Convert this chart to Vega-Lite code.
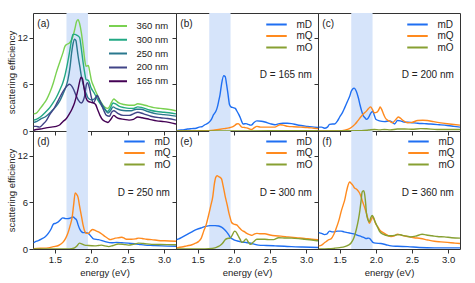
{
"$schema": "https://vega.github.io/schema/vega-lite/v6.json",
"padding": {"left": 6, "top": 12, "right": 5, "bottom": 2},
"background": "white",
"bounds": "flush",
"spacing": 0,
"columns": 3,
"config": {
  "font": "Liberation Sans",
  "view": {"stroke": "#333", "strokeWidth": 1},
  "axis": {"domain": false, "grid": false, "tickSize": 4, "tickColor": "#333", "tickWidth": 1, "labelFont": "Liberation Sans", "labelFontSize": 9.5, "labelColor": "#222", "titleFont": "Liberation Sans", "titleFontSize": 9.5, "titleFontWeight": "normal", "titleColor": "#222", "labelPadding": 1.5},
  "axisY": {"titlePadding": 0},
  "axisX": {"titlePadding": 3},
  "legend": {"orient": "none", "symbolType": "stroke", "symbolStrokeWidth": 2, "labelFont": "Liberation Sans", "labelFontSize": 10, "labelColor": "#222", "padding": 0, "labelOffset": 8.5},
  "text": {"font": "Liberation Sans", "fontSize": 10, "color": "#222"}
},
"datasets": {
"a": [
{"E":1.21,"v":2.2,"s":"360 nm"},{"E":1.245,"v":2.3,"s":"360 nm"},{"E":1.3,"v":2.9,"s":"360 nm"},{"E":1.34,"v":3.4,"s":"360 nm"},{"E":1.39,"v":4.1,"s":"360 nm"},{"E":1.43,"v":4.9,"s":"360 nm"},{"E":1.48,"v":6.2,"s":"360 nm"},{"E":1.52,"v":7.5,"s":"360 nm"},{"E":1.57,"v":8.9,"s":"360 nm"},{"E":1.61,"v":10.0,"s":"360 nm"},{"E":1.64,"v":10.9,"s":"360 nm"},{"E":1.66,"v":11.1,"s":"360 nm"},{"E":1.7,"v":11.3,"s":"360 nm"},{"E":1.73,"v":11.7,"s":"360 nm"},{"E":1.75,"v":12.2,"s":"360 nm"},{"E":1.78,"v":13.3,"s":"360 nm"},{"E":1.8,"v":14.1,"s":"360 nm"},{"E":1.82,"v":14.3,"s":"360 nm"},{"E":1.84,"v":13.8,"s":"360 nm"},{"E":1.865,"v":12.6,"s":"360 nm"},{"E":1.89,"v":10.8,"s":"360 nm"},{"E":1.91,"v":9.2,"s":"360 nm"},{"E":1.93,"v":8.3,"s":"360 nm"},{"E":1.96,"v":8.4,"s":"360 nm"},{"E":1.98,"v":7.6,"s":"360 nm"},{"E":2.0,"v":6.6,"s":"360 nm"},{"E":2.04,"v":5.6,"s":"360 nm"},{"E":2.07,"v":4.9,"s":"360 nm"},{"E":2.1,"v":4.3,"s":"360 nm"},{"E":2.14,"v":3.6,"s":"360 nm"},{"E":2.18,"v":3.1,"s":"360 nm"},{"E":2.22,"v":2.9,"s":"360 nm"},{"E":2.25,"v":3.1,"s":"360 nm"},{"E":2.28,"v":3.7,"s":"360 nm"},{"E":2.31,"v":4.1,"s":"360 nm"},{"E":2.34,"v":3.9,"s":"360 nm"},{"E":2.38,"v":3.6,"s":"360 nm"},{"E":2.45,"v":3.4,"s":"360 nm"},{"E":2.52,"v":3.3,"s":"360 nm"},{"E":2.58,"v":3.3,"s":"360 nm"},{"E":2.64,"v":3.5,"s":"360 nm"},{"E":2.7,"v":3.4,"s":"360 nm"},{"E":2.78,"v":3.2,"s":"360 nm"},{"E":2.86,"v":3.0,"s":"360 nm"},{"E":2.95,"v":2.9,"s":"360 nm"},{"E":3.05,"v":2.8,"s":"360 nm"},{"E":3.165,"v":2.6,"s":"360 nm"},
{"E":1.21,"v":1.4,"s":"300 nm"},{"E":1.245,"v":1.5,"s":"300 nm"},{"E":1.3,"v":1.8,"s":"300 nm"},{"E":1.38,"v":2.5,"s":"300 nm"},{"E":1.43,"v":3.0,"s":"300 nm"},{"E":1.475,"v":3.6,"s":"300 nm"},{"E":1.52,"v":4.3,"s":"300 nm"},{"E":1.57,"v":5.3,"s":"300 nm"},{"E":1.61,"v":6.2,"s":"300 nm"},{"E":1.635,"v":7.0,"s":"300 nm"},{"E":1.67,"v":8.5,"s":"300 nm"},{"E":1.7,"v":10.0,"s":"300 nm"},{"E":1.73,"v":11.7,"s":"300 nm"},{"E":1.75,"v":12.4,"s":"300 nm"},{"E":1.78,"v":12.4,"s":"300 nm"},{"E":1.8,"v":12.3,"s":"300 nm"},{"E":1.82,"v":12.2,"s":"300 nm"},{"E":1.84,"v":12.0,"s":"300 nm"},{"E":1.865,"v":10.5,"s":"300 nm"},{"E":1.89,"v":8.7,"s":"300 nm"},{"E":1.91,"v":7.5,"s":"300 nm"},{"E":1.93,"v":6.6,"s":"300 nm"},{"E":1.96,"v":6.5,"s":"300 nm"},{"E":2.0,"v":5.5,"s":"300 nm"},{"E":2.04,"v":4.9,"s":"300 nm"},{"E":2.09,"v":4.0,"s":"300 nm"},{"E":2.14,"v":3.3,"s":"300 nm"},{"E":2.19,"v":2.7,"s":"300 nm"},{"E":2.22,"v":2.5,"s":"300 nm"},{"E":2.26,"v":2.9,"s":"300 nm"},{"E":2.3,"v":3.6,"s":"300 nm"},{"E":2.33,"v":3.5,"s":"300 nm"},{"E":2.38,"v":3.2,"s":"300 nm"},{"E":2.45,"v":3.0,"s":"300 nm"},{"E":2.52,"v":2.9,"s":"300 nm"},{"E":2.58,"v":2.9,"s":"300 nm"},{"E":2.64,"v":3.1,"s":"300 nm"},{"E":2.7,"v":3.0,"s":"300 nm"},{"E":2.8,"v":2.7,"s":"300 nm"},{"E":2.9,"v":2.5,"s":"300 nm"},{"E":3.0,"v":2.4,"s":"300 nm"},{"E":3.165,"v":2.2,"s":"300 nm"},
{"E":1.21,"v":1.1,"s":"250 nm"},{"E":1.245,"v":1.2,"s":"250 nm"},{"E":1.3,"v":1.5,"s":"250 nm"},{"E":1.38,"v":1.9,"s":"250 nm"},{"E":1.45,"v":2.5,"s":"250 nm"},{"E":1.52,"v":3.2,"s":"250 nm"},{"E":1.57,"v":3.9,"s":"250 nm"},{"E":1.61,"v":4.7,"s":"250 nm"},{"E":1.65,"v":5.6,"s":"250 nm"},{"E":1.68,"v":6.6,"s":"250 nm"},{"E":1.71,"v":8.3,"s":"250 nm"},{"E":1.73,"v":10.0,"s":"250 nm"},{"E":1.75,"v":11.2,"s":"250 nm"},{"E":1.77,"v":11.8,"s":"250 nm"},{"E":1.79,"v":11.6,"s":"250 nm"},{"E":1.8,"v":11.0,"s":"250 nm"},{"E":1.82,"v":9.6,"s":"250 nm"},{"E":1.845,"v":8.2,"s":"250 nm"},{"E":1.865,"v":7.0,"s":"250 nm"},{"E":1.89,"v":6.0,"s":"250 nm"},{"E":1.91,"v":5.3,"s":"250 nm"},{"E":1.94,"v":4.6,"s":"250 nm"},{"E":1.96,"v":4.2,"s":"250 nm"},{"E":2.0,"v":4.0,"s":"250 nm"},{"E":2.04,"v":4.1,"s":"250 nm"},{"E":2.08,"v":4.5,"s":"250 nm"},{"E":2.11,"v":4.0,"s":"250 nm"},{"E":2.15,"v":3.4,"s":"250 nm"},{"E":2.19,"v":2.8,"s":"250 nm"},{"E":2.23,"v":2.3,"s":"250 nm"},{"E":2.27,"v":2.7,"s":"250 nm"},{"E":2.3,"v":3.1,"s":"250 nm"},{"E":2.34,"v":2.9,"s":"250 nm"},{"E":2.4,"v":2.7,"s":"250 nm"},{"E":2.48,"v":2.6,"s":"250 nm"},{"E":2.55,"v":2.6,"s":"250 nm"},{"E":2.62,"v":2.8,"s":"250 nm"},{"E":2.68,"v":2.8,"s":"250 nm"},{"E":2.78,"v":2.5,"s":"250 nm"},{"E":2.9,"v":2.2,"s":"250 nm"},{"E":3.0,"v":2.1,"s":"250 nm"},{"E":3.165,"v":1.9,"s":"250 nm"},
{"E":1.21,"v":0.6,"s":"200 nm"},{"E":1.245,"v":0.6,"s":"200 nm"},{"E":1.29,"v":0.5,"s":"200 nm"},{"E":1.34,"v":0.9,"s":"200 nm"},{"E":1.38,"v":1.3,"s":"200 nm"},{"E":1.43,"v":2.1,"s":"200 nm"},{"E":1.49,"v":2.9,"s":"200 nm"},{"E":1.54,"v":3.8,"s":"200 nm"},{"E":1.59,"v":4.7,"s":"200 nm"},{"E":1.635,"v":5.4,"s":"200 nm"},{"E":1.67,"v":5.8,"s":"200 nm"},{"E":1.7,"v":6.0,"s":"200 nm"},{"E":1.73,"v":5.8,"s":"200 nm"},{"E":1.76,"v":5.3,"s":"200 nm"},{"E":1.79,"v":4.6,"s":"200 nm"},{"E":1.82,"v":4.0,"s":"200 nm"},{"E":1.865,"v":3.6,"s":"200 nm"},{"E":1.89,"v":3.9,"s":"200 nm"},{"E":1.91,"v":4.5,"s":"200 nm"},{"E":1.935,"v":6.0,"s":"200 nm"},{"E":1.95,"v":6.2,"s":"200 nm"},{"E":1.98,"v":5.3,"s":"200 nm"},{"E":2.0,"v":4.4,"s":"200 nm"},{"E":2.03,"v":3.6,"s":"200 nm"},{"E":2.06,"v":4.1,"s":"200 nm"},{"E":2.08,"v":4.6,"s":"200 nm"},{"E":2.1,"v":4.3,"s":"200 nm"},{"E":2.13,"v":3.6,"s":"200 nm"},{"E":2.17,"v":2.7,"s":"200 nm"},{"E":2.21,"v":2.0,"s":"200 nm"},{"E":2.25,"v":1.9,"s":"200 nm"},{"E":2.28,"v":2.4,"s":"200 nm"},{"E":2.31,"v":2.6,"s":"200 nm"},{"E":2.36,"v":2.3,"s":"200 nm"},{"E":2.44,"v":2.0,"s":"200 nm"},{"E":2.52,"v":2.0,"s":"200 nm"},{"E":2.58,"v":2.2,"s":"200 nm"},{"E":2.64,"v":2.4,"s":"200 nm"},{"E":2.72,"v":2.2,"s":"200 nm"},{"E":2.82,"v":1.9,"s":"200 nm"},{"E":2.95,"v":1.7,"s":"200 nm"},{"E":3.05,"v":1.6,"s":"200 nm"},{"E":3.165,"v":1.4,"s":"200 nm"},
{"E":1.21,"v":0.1,"s":"165 nm"},{"E":1.245,"v":0.2,"s":"165 nm"},{"E":1.3,"v":0.25,"s":"165 nm"},{"E":1.38,"v":0.4,"s":"165 nm"},{"E":1.45,"v":0.5,"s":"165 nm"},{"E":1.52,"v":0.6,"s":"165 nm"},{"E":1.57,"v":0.8,"s":"165 nm"},{"E":1.61,"v":1.2,"s":"165 nm"},{"E":1.65,"v":1.5,"s":"165 nm"},{"E":1.7,"v":2.2,"s":"165 nm"},{"E":1.74,"v":2.9,"s":"165 nm"},{"E":1.77,"v":3.6,"s":"165 nm"},{"E":1.8,"v":4.6,"s":"165 nm"},{"E":1.82,"v":5.4,"s":"165 nm"},{"E":1.845,"v":6.5,"s":"165 nm"},{"E":1.86,"v":6.9,"s":"165 nm"},{"E":1.88,"v":6.7,"s":"165 nm"},{"E":1.9,"v":5.6,"s":"165 nm"},{"E":1.93,"v":4.2,"s":"165 nm"},{"E":1.96,"v":3.8,"s":"165 nm"},{"E":1.99,"v":3.7,"s":"165 nm"},{"E":2.03,"v":3.6,"s":"165 nm"},{"E":2.06,"v":3.4,"s":"165 nm"},{"E":2.09,"v":2.7,"s":"165 nm"},{"E":2.12,"v":2.0,"s":"165 nm"},{"E":2.16,"v":1.4,"s":"165 nm"},{"E":2.2,"v":1.2,"s":"165 nm"},{"E":2.23,"v":1.1,"s":"165 nm"},{"E":2.27,"v":1.5,"s":"165 nm"},{"E":2.31,"v":2.0,"s":"165 nm"},{"E":2.34,"v":1.8,"s":"165 nm"},{"E":2.38,"v":1.6,"s":"165 nm"},{"E":2.45,"v":1.5,"s":"165 nm"},{"E":2.52,"v":1.4,"s":"165 nm"},{"E":2.58,"v":1.5,"s":"165 nm"},{"E":2.64,"v":1.8,"s":"165 nm"},{"E":2.7,"v":1.7,"s":"165 nm"},{"E":2.8,"v":1.5,"s":"165 nm"},{"E":2.9,"v":1.3,"s":"165 nm"},{"E":3.0,"v":1.2,"s":"165 nm"},{"E":3.165,"v":0.9,"s":"165 nm"}
],
"b": [
{"E":1.21,"v":0.05,"s":"mD"},{"E":1.24,"v":0.1,"s":"mD"},{"E":1.3,"v":0.15,"s":"mD"},{"E":1.36,"v":0.25,"s":"mD"},{"E":1.42,"v":0.3,"s":"mD"},{"E":1.48,"v":0.35,"s":"mD"},{"E":1.52,"v":0.5,"s":"mD"},{"E":1.56,"v":0.55,"s":"mD"},{"E":1.6,"v":0.8,"s":"mD"},{"E":1.65,"v":1.05,"s":"mD"},{"E":1.69,"v":1.5,"s":"mD"},{"E":1.72,"v":2.1,"s":"mD"},{"E":1.75,"v":2.5,"s":"mD"},{"E":1.77,"v":3.0,"s":"mD"},{"E":1.79,"v":3.8,"s":"mD"},{"E":1.81,"v":4.7,"s":"mD"},{"E":1.83,"v":6.0,"s":"mD"},{"E":1.86,"v":7.1,"s":"mD"},{"E":1.88,"v":7.0,"s":"mD"},{"E":1.9,"v":6.0,"s":"mD"},{"E":1.92,"v":4.7,"s":"mD"},{"E":1.94,"v":3.4,"s":"mD"},{"E":1.96,"v":3.1,"s":"mD"},{"E":1.99,"v":3.0,"s":"mD"},{"E":2.02,"v":2.9,"s":"mD"},{"E":2.04,"v":2.6,"s":"mD"},{"E":2.07,"v":2.1,"s":"mD"},{"E":2.09,"v":1.7,"s":"mD"},{"E":2.11,"v":1.2,"s":"mD"},{"E":2.13,"v":0.9,"s":"mD"},{"E":2.17,"v":0.95,"s":"mD"},{"E":2.2,"v":0.85,"s":"mD"},{"E":2.23,"v":0.75,"s":"mD"},{"E":2.25,"v":0.8,"s":"mD"},{"E":2.28,"v":1.1,"s":"mD"},{"E":2.32,"v":1.3,"s":"mD"},{"E":2.38,"v":1.25,"s":"mD"},{"E":2.43,"v":1.15,"s":"mD"},{"E":2.5,"v":0.95,"s":"mD"},{"E":2.57,"v":0.8,"s":"mD"},{"E":2.63,"v":0.95,"s":"mD"},{"E":2.68,"v":1.0,"s":"mD"},{"E":2.74,"v":1.0,"s":"mD"},{"E":2.8,"v":0.95,"s":"mD"},{"E":2.87,"v":0.8,"s":"mD"},{"E":2.93,"v":0.7,"s":"mD"},{"E":3.02,"v":0.6,"s":"mD"},{"E":3.11,"v":0.5,"s":"mD"},{"E":3.165,"v":0.45,"s":"mD"},
{"E":1.21,"v":0.0,"s":"mQ"},{"E":1.5,"v":0.02,"s":"mQ"},{"E":1.65,"v":0.05,"s":"mQ"},{"E":1.72,"v":0.1,"s":"mQ"},{"E":1.79,"v":0.2,"s":"mQ"},{"E":1.86,"v":0.3,"s":"mQ"},{"E":1.93,"v":0.4,"s":"mQ"},{"E":1.97,"v":0.5,"s":"mQ"},{"E":2.01,"v":0.7,"s":"mQ"},{"E":2.04,"v":0.9,"s":"mQ"},{"E":2.06,"v":0.95,"s":"mQ"},{"E":2.08,"v":0.8,"s":"mQ"},{"E":2.11,"v":0.5,"s":"mQ"},{"E":2.15,"v":0.45,"s":"mQ"},{"E":2.18,"v":0.4,"s":"mQ"},{"E":2.22,"v":0.25,"s":"mQ"},{"E":2.25,"v":0.2,"s":"mQ"},{"E":2.28,"v":0.4,"s":"mQ"},{"E":2.32,"v":0.6,"s":"mQ"},{"E":2.37,"v":0.5,"s":"mQ"},{"E":2.43,"v":0.5,"s":"mQ"},{"E":2.5,"v":0.5,"s":"mQ"},{"E":2.57,"v":0.5,"s":"mQ"},{"E":2.61,"v":0.7,"s":"mQ"},{"E":2.64,"v":0.8,"s":"mQ"},{"E":2.68,"v":0.75,"s":"mQ"},{"E":2.75,"v":0.6,"s":"mQ"},{"E":2.83,"v":0.55,"s":"mQ"},{"E":2.93,"v":0.5,"s":"mQ"},{"E":3.02,"v":0.45,"s":"mQ"},{"E":3.11,"v":0.35,"s":"mQ"},{"E":3.165,"v":0.3,"s":"mQ"},
{"E":1.21,"v":0.0,"s":"mO"},{"E":2.0,"v":0.01,"s":"mO"},{"E":2.5,"v":0.03,"s":"mO"},{"E":3.165,"v":0.03,"s":"mO"}
],
"c": [
{"E":1.21,"v":0.5,"s":"mD"},{"E":1.25,"v":0.5,"s":"mD"},{"E":1.29,"v":0.35,"s":"mD"},{"E":1.33,"v":0.5,"s":"mD"},{"E":1.36,"v":0.85,"s":"mD"},{"E":1.4,"v":0.9,"s":"mD"},{"E":1.43,"v":0.9,"s":"mD"},{"E":1.47,"v":1.3,"s":"mD"},{"E":1.5,"v":1.8,"s":"mD"},{"E":1.54,"v":2.4,"s":"mD"},{"E":1.57,"v":3.0,"s":"mD"},{"E":1.61,"v":3.85,"s":"mD"},{"E":1.64,"v":4.5,"s":"mD"},{"E":1.66,"v":5.1,"s":"mD"},{"E":1.68,"v":5.4,"s":"mD"},{"E":1.7,"v":5.5,"s":"mD"},{"E":1.72,"v":5.3,"s":"mD"},{"E":1.73,"v":5.1,"s":"mD"},{"E":1.76,"v":4.2,"s":"mD"},{"E":1.78,"v":3.4,"s":"mD"},{"E":1.8,"v":2.7,"s":"mD"},{"E":1.82,"v":2.1,"s":"mD"},{"E":1.85,"v":1.7,"s":"mD"},{"E":1.87,"v":1.5,"s":"mD"},{"E":1.89,"v":1.6,"s":"mD"},{"E":1.91,"v":1.9,"s":"mD"},{"E":1.93,"v":2.3,"s":"mD"},{"E":1.96,"v":2.5,"s":"mD"},{"E":1.98,"v":2.0,"s":"mD"},{"E":2.0,"v":1.5,"s":"mD"},{"E":2.05,"v":1.3,"s":"mD"},{"E":2.12,"v":1.2,"s":"mD"},{"E":2.19,"v":1.3,"s":"mD"},{"E":2.23,"v":1.1,"s":"mD"},{"E":2.26,"v":0.9,"s":"mD"},{"E":2.3,"v":1.35,"s":"mD"},{"E":2.34,"v":1.3,"s":"mD"},{"E":2.39,"v":1.15,"s":"mD"},{"E":2.48,"v":1.1,"s":"mD"},{"E":2.58,"v":1.0,"s":"mD"},{"E":2.67,"v":0.95,"s":"mD"},{"E":2.76,"v":0.9,"s":"mD"},{"E":2.88,"v":0.8,"s":"mD"},{"E":2.99,"v":0.7,"s":"mD"},{"E":3.08,"v":0.6,"s":"mD"},{"E":3.165,"v":0.5,"s":"mD"},
{"E":1.21,"v":0.0,"s":"mQ"},{"E":1.5,"v":0.02,"s":"mQ"},{"E":1.57,"v":0.1,"s":"mQ"},{"E":1.61,"v":0.2,"s":"mQ"},{"E":1.66,"v":0.45,"s":"mQ"},{"E":1.71,"v":0.85,"s":"mQ"},{"E":1.75,"v":1.3,"s":"mQ"},{"E":1.8,"v":1.9,"s":"mQ"},{"E":1.84,"v":2.3,"s":"mQ"},{"E":1.87,"v":2.55,"s":"mQ"},{"E":1.9,"v":2.9,"s":"mQ"},{"E":1.93,"v":3.1,"s":"mQ"},{"E":1.95,"v":2.8,"s":"mQ"},{"E":1.98,"v":2.35,"s":"mQ"},{"E":2.01,"v":2.4,"s":"mQ"},{"E":2.03,"v":2.55,"s":"mQ"},{"E":2.05,"v":2.9,"s":"mQ"},{"E":2.06,"v":3.1,"s":"mQ"},{"E":2.08,"v":2.8,"s":"mQ"},{"E":2.11,"v":2.1,"s":"mQ"},{"E":2.13,"v":1.7,"s":"mQ"},{"E":2.16,"v":1.4,"s":"mQ"},{"E":2.2,"v":1.2,"s":"mQ"},{"E":2.23,"v":1.05,"s":"mQ"},{"E":2.26,"v":1.3,"s":"mQ"},{"E":2.28,"v":1.5,"s":"mQ"},{"E":2.31,"v":1.8,"s":"mQ"},{"E":2.34,"v":1.65,"s":"mQ"},{"E":2.37,"v":1.4,"s":"mQ"},{"E":2.44,"v":1.05,"s":"mQ"},{"E":2.5,"v":1.1,"s":"mQ"},{"E":2.58,"v":1.35,"s":"mQ"},{"E":2.65,"v":1.38,"s":"mQ"},{"E":2.71,"v":1.35,"s":"mQ"},{"E":2.8,"v":1.2,"s":"mQ"},{"E":2.9,"v":1.05,"s":"mQ"},{"E":3.02,"v":0.9,"s":"mQ"},{"E":3.165,"v":0.75,"s":"mQ"},
{"E":1.21,"v":0.0,"s":"mO"},{"E":1.8,"v":0.05,"s":"mO"},{"E":1.9,"v":0.12,"s":"mO"},{"E":1.98,"v":0.2,"s":"mO"},{"E":2.05,"v":0.15,"s":"mO"},{"E":2.12,"v":0.2,"s":"mO"},{"E":2.2,"v":0.15,"s":"mO"},{"E":2.3,"v":0.25,"s":"mO"},{"E":2.4,"v":0.25,"s":"mO"},{"E":2.5,"v":0.22,"s":"mO"},{"E":2.62,"v":0.3,"s":"mO"},{"E":2.7,"v":0.28,"s":"mO"},{"E":2.85,"v":0.2,"s":"mO"},{"E":3.0,"v":0.2,"s":"mO"},{"E":3.165,"v":0.2,"s":"mO"}
],
"d": [
{"E":1.21,"v":0.8,"s":"mD"},{"E":1.25,"v":1.0,"s":"mD"},{"E":1.28,"v":1.1,"s":"mD"},{"E":1.32,"v":1.3,"s":"mD"},{"E":1.36,"v":1.5,"s":"mD"},{"E":1.41,"v":2.0,"s":"mD"},{"E":1.45,"v":2.6,"s":"mD"},{"E":1.48,"v":3.2,"s":"mD"},{"E":1.51,"v":3.3,"s":"mD"},{"E":1.55,"v":3.5,"s":"mD"},{"E":1.58,"v":3.8,"s":"mD"},{"E":1.61,"v":4.0,"s":"mD"},{"E":1.65,"v":3.9,"s":"mD"},{"E":1.68,"v":3.9,"s":"mD"},{"E":1.72,"v":4.0,"s":"mD"},{"E":1.75,"v":4.1,"s":"mD"},{"E":1.78,"v":3.9,"s":"mD"},{"E":1.8,"v":3.7,"s":"mD"},{"E":1.82,"v":3.1,"s":"mD"},{"E":1.84,"v":2.6,"s":"mD"},{"E":1.87,"v":2.2,"s":"mD"},{"E":1.89,"v":2.1,"s":"mD"},{"E":1.93,"v":2.1,"s":"mD"},{"E":1.96,"v":2.0,"s":"mD"},{"E":2.0,"v":1.6,"s":"mD"},{"E":2.03,"v":1.3,"s":"mD"},{"E":2.1,"v":1.2,"s":"mD"},{"E":2.19,"v":0.95,"s":"mD"},{"E":2.28,"v":0.8,"s":"mD"},{"E":2.35,"v":0.85,"s":"mD"},{"E":2.42,"v":0.8,"s":"mD"},{"E":2.55,"v":0.7,"s":"mD"},{"E":2.65,"v":0.6,"s":"mD"},{"E":2.74,"v":0.5,"s":"mD"},{"E":2.85,"v":0.45,"s":"mD"},{"E":2.97,"v":0.4,"s":"mD"},{"E":3.165,"v":0.35,"s":"mD"},
{"E":1.21,"v":0.05,"s":"mQ"},{"E":1.3,"v":0.1,"s":"mQ"},{"E":1.41,"v":0.15,"s":"mQ"},{"E":1.48,"v":0.3,"s":"mQ"},{"E":1.55,"v":0.45,"s":"mQ"},{"E":1.61,"v":0.85,"s":"mQ"},{"E":1.65,"v":1.4,"s":"mQ"},{"E":1.68,"v":2.05,"s":"mQ"},{"E":1.71,"v":3.0,"s":"mQ"},{"E":1.74,"v":4.2,"s":"mQ"},{"E":1.76,"v":5.8,"s":"mQ"},{"E":1.78,"v":7.2,"s":"mQ"},{"E":1.8,"v":7.0,"s":"mQ"},{"E":1.82,"v":6.6,"s":"mQ"},{"E":1.84,"v":5.5,"s":"mQ"},{"E":1.87,"v":4.0,"s":"mQ"},{"E":1.89,"v":3.0,"s":"mQ"},{"E":1.91,"v":2.3,"s":"mQ"},{"E":1.94,"v":2.0,"s":"mQ"},{"E":1.96,"v":2.0,"s":"mQ"},{"E":1.99,"v":2.3,"s":"mQ"},{"E":2.02,"v":2.5,"s":"mQ"},{"E":2.06,"v":2.35,"s":"mQ"},{"E":2.1,"v":2.2,"s":"mQ"},{"E":2.15,"v":1.9,"s":"mQ"},{"E":2.19,"v":1.6,"s":"mQ"},{"E":2.23,"v":1.35,"s":"mQ"},{"E":2.26,"v":1.2,"s":"mQ"},{"E":2.3,"v":1.3,"s":"mQ"},{"E":2.33,"v":1.4,"s":"mQ"},{"E":2.38,"v":1.45,"s":"mQ"},{"E":2.42,"v":1.5,"s":"mQ"},{"E":2.46,"v":1.35,"s":"mQ"},{"E":2.49,"v":1.25,"s":"mQ"},{"E":2.55,"v":1.25,"s":"mQ"},{"E":2.61,"v":1.3,"s":"mQ"},{"E":2.65,"v":1.4,"s":"mQ"},{"E":2.7,"v":1.35,"s":"mQ"},{"E":2.76,"v":1.25,"s":"mQ"},{"E":2.83,"v":1.2,"s":"mQ"},{"E":2.92,"v":1.1,"s":"mQ"},{"E":3.01,"v":1.05,"s":"mQ"},{"E":3.165,"v":1.0,"s":"mQ"},
{"E":1.21,"v":0.0,"s":"mO"},{"E":1.7,"v":0.02,"s":"mO"},{"E":1.76,"v":0.1,"s":"mO"},{"E":1.8,"v":0.35,"s":"mO"},{"E":1.84,"v":0.75,"s":"mO"},{"E":1.87,"v":0.65,"s":"mO"},{"E":1.91,"v":0.5,"s":"mO"},{"E":1.96,"v":0.45,"s":"mO"},{"E":2.05,"v":0.4,"s":"mO"},{"E":2.1,"v":0.45,"s":"mO"},{"E":2.14,"v":0.5,"s":"mO"},{"E":2.19,"v":0.4,"s":"mO"},{"E":2.24,"v":0.3,"s":"mO"},{"E":2.3,"v":0.45,"s":"mO"},{"E":2.37,"v":0.65,"s":"mO"},{"E":2.44,"v":0.6,"s":"mO"},{"E":2.51,"v":0.5,"s":"mO"},{"E":2.58,"v":0.6,"s":"mO"},{"E":2.65,"v":0.75,"s":"mO"},{"E":2.72,"v":0.7,"s":"mO"},{"E":2.83,"v":0.6,"s":"mO"},{"E":2.95,"v":0.58,"s":"mO"},{"E":3.165,"v":0.55,"s":"mO"}
],
"e": [
{"E":1.21,"v":1.2,"s":"mD"},{"E":1.24,"v":1.3,"s":"mD"},{"E":1.28,"v":1.5,"s":"mD"},{"E":1.33,"v":1.75,"s":"mD"},{"E":1.38,"v":2.0,"s":"mD"},{"E":1.42,"v":2.2,"s":"mD"},{"E":1.47,"v":2.45,"s":"mD"},{"E":1.51,"v":2.6,"s":"mD"},{"E":1.56,"v":2.75,"s":"mD"},{"E":1.61,"v":2.9,"s":"mD"},{"E":1.67,"v":3.0,"s":"mD"},{"E":1.74,"v":3.0,"s":"mD"},{"E":1.79,"v":2.95,"s":"mD"},{"E":1.83,"v":2.8,"s":"mD"},{"E":1.87,"v":2.5,"s":"mD"},{"E":1.9,"v":2.2,"s":"mD"},{"E":1.93,"v":1.8,"s":"mD"},{"E":1.95,"v":1.5,"s":"mD"},{"E":1.98,"v":1.3,"s":"mD"},{"E":2.02,"v":1.1,"s":"mD"},{"E":2.07,"v":1.0,"s":"mD"},{"E":2.11,"v":0.9,"s":"mD"},{"E":2.16,"v":0.85,"s":"mD"},{"E":2.2,"v":0.8,"s":"mD"},{"E":2.27,"v":0.65,"s":"mD"},{"E":2.34,"v":0.5,"s":"mD"},{"E":2.45,"v":0.45,"s":"mD"},{"E":2.57,"v":0.4,"s":"mD"},{"E":2.7,"v":0.35,"s":"mD"},{"E":2.8,"v":0.3,"s":"mD"},{"E":2.95,"v":0.25,"s":"mD"},{"E":3.165,"v":0.2,"s":"mD"},
{"E":1.21,"v":0.15,"s":"mQ"},{"E":1.28,"v":0.25,"s":"mQ"},{"E":1.35,"v":0.4,"s":"mQ"},{"E":1.42,"v":0.55,"s":"mQ"},{"E":1.47,"v":0.75,"s":"mQ"},{"E":1.51,"v":0.95,"s":"mQ"},{"E":1.55,"v":1.4,"s":"mQ"},{"E":1.58,"v":2.2,"s":"mQ"},{"E":1.62,"v":3.2,"s":"mQ"},{"E":1.65,"v":4.3,"s":"mQ"},{"E":1.68,"v":5.5,"s":"mQ"},{"E":1.71,"v":6.8,"s":"mQ"},{"E":1.73,"v":8.3,"s":"mQ"},{"E":1.75,"v":9.2,"s":"mQ"},{"E":1.77,"v":9.4,"s":"mQ"},{"E":1.79,"v":9.3,"s":"mQ"},{"E":1.81,"v":9.2,"s":"mQ"},{"E":1.83,"v":9.0,"s":"mQ"},{"E":1.85,"v":8.2,"s":"mQ"},{"E":1.88,"v":6.8,"s":"mQ"},{"E":1.91,"v":5.6,"s":"mQ"},{"E":1.93,"v":4.7,"s":"mQ"},{"E":1.95,"v":4.0,"s":"mQ"},{"E":1.97,"v":3.4,"s":"mQ"},{"E":2.0,"v":3.2,"s":"mQ"},{"E":2.04,"v":3.1,"s":"mQ"},{"E":2.07,"v":2.8,"s":"mQ"},{"E":2.11,"v":2.4,"s":"mQ"},{"E":2.15,"v":2.2,"s":"mQ"},{"E":2.18,"v":2.0,"s":"mQ"},{"E":2.22,"v":1.85,"s":"mQ"},{"E":2.25,"v":1.75,"s":"mQ"},{"E":2.29,"v":1.95,"s":"mQ"},{"E":2.32,"v":2.0,"s":"mQ"},{"E":2.37,"v":1.95,"s":"mQ"},{"E":2.43,"v":1.95,"s":"mQ"},{"E":2.5,"v":1.8,"s":"mQ"},{"E":2.57,"v":1.7,"s":"mQ"},{"E":2.65,"v":1.65,"s":"mQ"},{"E":2.75,"v":1.55,"s":"mQ"},{"E":2.86,"v":1.45,"s":"mQ"},{"E":2.98,"v":1.35,"s":"mQ"},{"E":3.08,"v":1.25,"s":"mQ"},{"E":3.165,"v":1.2,"s":"mQ"},
{"E":1.21,"v":0.0,"s":"mO"},{"E":1.6,"v":0.02,"s":"mO"},{"E":1.7,"v":0.08,"s":"mO"},{"E":1.74,"v":0.15,"s":"mO"},{"E":1.78,"v":0.3,"s":"mO"},{"E":1.81,"v":0.45,"s":"mO"},{"E":1.85,"v":0.8,"s":"mO"},{"E":1.88,"v":1.2,"s":"mO"},{"E":1.91,"v":1.35,"s":"mO"},{"E":1.95,"v":1.4,"s":"mO"},{"E":1.98,"v":1.8,"s":"mO"},{"E":2.01,"v":2.3,"s":"mO"},{"E":2.03,"v":2.2,"s":"mO"},{"E":2.06,"v":1.7,"s":"mO"},{"E":2.09,"v":1.2,"s":"mO"},{"E":2.11,"v":0.85,"s":"mO"},{"E":2.14,"v":1.0,"s":"mO"},{"E":2.17,"v":1.3,"s":"mO"},{"E":2.2,"v":0.9,"s":"mO"},{"E":2.23,"v":0.6,"s":"mO"},{"E":2.27,"v":0.9,"s":"mO"},{"E":2.32,"v":1.25,"s":"mO"},{"E":2.38,"v":1.25,"s":"mO"},{"E":2.43,"v":1.25,"s":"mO"},{"E":2.5,"v":1.2,"s":"mO"},{"E":2.55,"v":1.2,"s":"mO"},{"E":2.62,"v":1.45,"s":"mO"},{"E":2.7,"v":1.42,"s":"mO"},{"E":2.8,"v":1.4,"s":"mO"},{"E":2.9,"v":1.33,"s":"mO"},{"E":2.98,"v":1.25,"s":"mO"},{"E":3.08,"v":1.15,"s":"mO"},{"E":3.165,"v":1.05,"s":"mO"}
],
"f": [
{"E":1.21,"v":2.1,"s":"mD"},{"E":1.25,"v":2.0,"s":"mD"},{"E":1.29,"v":1.85,"s":"mD"},{"E":1.32,"v":1.9,"s":"mD"},{"E":1.36,"v":2.3,"s":"mD"},{"E":1.39,"v":2.2,"s":"mD"},{"E":1.43,"v":2.2,"s":"mD"},{"E":1.47,"v":2.3,"s":"mD"},{"E":1.52,"v":2.3,"s":"mD"},{"E":1.56,"v":2.2,"s":"mD"},{"E":1.61,"v":2.1,"s":"mD"},{"E":1.66,"v":2.0,"s":"mD"},{"E":1.71,"v":1.9,"s":"mD"},{"E":1.75,"v":1.75,"s":"mD"},{"E":1.8,"v":1.6,"s":"mD"},{"E":1.84,"v":1.45,"s":"mD"},{"E":1.87,"v":1.35,"s":"mD"},{"E":1.9,"v":1.4,"s":"mD"},{"E":1.93,"v":1.2,"s":"mD"},{"E":1.96,"v":0.85,"s":"mD"},{"E":2.0,"v":0.75,"s":"mD"},{"E":2.07,"v":0.7,"s":"mD"},{"E":2.14,"v":0.55,"s":"mD"},{"E":2.21,"v":0.4,"s":"mD"},{"E":2.3,"v":0.35,"s":"mD"},{"E":2.44,"v":0.3,"s":"mD"},{"E":2.6,"v":0.2,"s":"mD"},{"E":2.81,"v":0.15,"s":"mD"},{"E":3.0,"v":0.15,"s":"mD"},{"E":3.165,"v":0.15,"s":"mD"},
{"E":1.21,"v":0.4,"s":"mQ"},{"E":1.25,"v":0.5,"s":"mQ"},{"E":1.29,"v":0.8,"s":"mQ"},{"E":1.32,"v":1.0,"s":"mQ"},{"E":1.35,"v":1.2,"s":"mQ"},{"E":1.38,"v":1.3,"s":"mQ"},{"E":1.42,"v":1.9,"s":"mQ"},{"E":1.45,"v":2.6,"s":"mQ"},{"E":1.49,"v":3.7,"s":"mQ"},{"E":1.52,"v":4.8,"s":"mQ"},{"E":1.55,"v":5.7,"s":"mQ"},{"E":1.57,"v":6.3,"s":"mQ"},{"E":1.59,"v":7.2,"s":"mQ"},{"E":1.61,"v":8.0,"s":"mQ"},{"E":1.64,"v":8.6,"s":"mQ"},{"E":1.66,"v":8.4,"s":"mQ"},{"E":1.68,"v":8.2,"s":"mQ"},{"E":1.71,"v":7.8,"s":"mQ"},{"E":1.73,"v":7.7,"s":"mQ"},{"E":1.76,"v":7.4,"s":"mQ"},{"E":1.78,"v":7.1,"s":"mQ"},{"E":1.8,"v":6.6,"s":"mQ"},{"E":1.82,"v":6.0,"s":"mQ"},{"E":1.85,"v":5.2,"s":"mQ"},{"E":1.87,"v":4.6,"s":"mQ"},{"E":1.89,"v":3.9,"s":"mQ"},{"E":1.91,"v":3.3,"s":"mQ"},{"E":1.93,"v":3.6,"s":"mQ"},{"E":1.96,"v":4.1,"s":"mQ"},{"E":1.98,"v":3.7,"s":"mQ"},{"E":2.0,"v":3.2,"s":"mQ"},{"E":2.03,"v":2.8,"s":"mQ"},{"E":2.05,"v":2.5,"s":"mQ"},{"E":2.12,"v":2.0,"s":"mQ"},{"E":2.21,"v":1.6,"s":"mQ"},{"E":2.26,"v":1.7,"s":"mQ"},{"E":2.3,"v":1.9,"s":"mQ"},{"E":2.36,"v":1.75,"s":"mQ"},{"E":2.44,"v":1.6,"s":"mQ"},{"E":2.53,"v":1.45,"s":"mQ"},{"E":2.62,"v":1.35,"s":"mQ"},{"E":2.72,"v":1.15,"s":"mQ"},{"E":2.81,"v":1.0,"s":"mQ"},{"E":2.9,"v":0.92,"s":"mQ"},{"E":2.99,"v":0.85,"s":"mQ"},{"E":3.08,"v":0.77,"s":"mQ"},{"E":3.165,"v":0.7,"s":"mQ"},
{"E":1.21,"v":0.0,"s":"mO"},{"E":1.35,"v":0.03,"s":"mO"},{"E":1.43,"v":0.1,"s":"mO"},{"E":1.5,"v":0.18,"s":"mO"},{"E":1.57,"v":0.3,"s":"mO"},{"E":1.62,"v":0.5,"s":"mO"},{"E":1.66,"v":0.8,"s":"mO"},{"E":1.7,"v":1.5,"s":"mO"},{"E":1.73,"v":2.5,"s":"mO"},{"E":1.76,"v":3.8,"s":"mO"},{"E":1.78,"v":5.0,"s":"mO"},{"E":1.8,"v":6.5,"s":"mO"},{"E":1.81,"v":7.3,"s":"mO"},{"E":1.83,"v":7.5,"s":"mO"},{"E":1.84,"v":7.3,"s":"mO"},{"E":1.86,"v":5.8,"s":"mO"},{"E":1.87,"v":4.6,"s":"mO"},{"E":1.89,"v":3.8,"s":"mO"},{"E":1.91,"v":3.5,"s":"mO"},{"E":1.93,"v":4.0,"s":"mO"},{"E":1.95,"v":4.3,"s":"mO"},{"E":1.97,"v":4.0,"s":"mO"},{"E":1.99,"v":3.5,"s":"mO"},{"E":2.02,"v":2.9,"s":"mO"},{"E":2.05,"v":2.3,"s":"mO"},{"E":2.1,"v":1.9,"s":"mO"},{"E":2.17,"v":1.7,"s":"mO"},{"E":2.22,"v":1.7,"s":"mO"},{"E":2.28,"v":1.8,"s":"mO"},{"E":2.33,"v":1.85,"s":"mO"},{"E":2.37,"v":1.75,"s":"mO"},{"E":2.43,"v":1.65,"s":"mO"},{"E":2.48,"v":1.55,"s":"mO"},{"E":2.55,"v":1.65,"s":"mO"},{"E":2.6,"v":1.8,"s":"mO"},{"E":2.64,"v":1.9,"s":"mO"},{"E":2.7,"v":1.8,"s":"mO"},{"E":2.78,"v":1.7,"s":"mO"},{"E":2.85,"v":1.6,"s":"mO"},{"E":2.95,"v":1.55,"s":"mO"},{"E":3.05,"v":1.45,"s":"mO"},{"E":3.165,"v":1.4,"s":"mO"}
]
},
"resolve": {"scale": {"color": "independent", "x": "independent", "y": "independent"}, "legend": {"color": "independent"}},
"concat": [
  {"width": 143, "height": 118, "layer": [
    {"data": {"values": [{}]}, "mark": {"type": "rect", "color": "#d6e4fa"}, "encoding": {"x": {"datum": 1.66, "type": "quantitative"}, "x2": {"datum": 1.955}}},
    {"data": {"name": "a"}, "mark": {"type": "line", "strokeWidth": 1.4, "interpolate": "monotone", "clip": true},
     "encoding": {
       "x": {"field": "E", "type": "quantitative", "scale": {"domain": [1.2, 3.165], "nice": false, "zero": false}, "axis": {"title": null, "labels": false, "values": [1.5, 2, 2.5, 3]}},
       "y": {"field": "v", "type": "quantitative", "scale": {"domain": [0, 15.15], "nice": false}, "axis": {"title": "scattering efficiency", "values": [0, 3, 6, 9, 12], "format": "d"}},
       "color": {"field": "s", "type": "nominal", "sort": null, "scale": {"domain": ["360 nm", "300 nm", "250 nm", "200 nm", "165 nm"], "range": ["#7ad151", "#22a884", "#2a788e", "#414487", "#440154"]}, "legend": {"title": null, "legendX": 75, "legendY": 7, "symbolSize": 324, "clipHeight": 12, "rowPadding": 1.8, "labelFontSize": 9.5}}
     }},
    {"data": {"values": [{}]}, "mark": {"type": "text", "align": "left", "baseline": "middle"}, "encoding": {"x": {"datum": 1.26, "type": "quantitative"}, "y": {"datum": 13.8, "type": "quantitative"}, "text": {"value": "(a)"}}}
  ]},
  {"width": 142, "height": 118, "layer": [
    {"data": {"values": [{}]}, "mark": {"type": "rect", "color": "#d6e4fa"}, "encoding": {"x": {"datum": 1.66, "type": "quantitative"}, "x2": {"datum": 1.955}}},
    {"data": {"name": "b"}, "mark": {"type": "line", "strokeWidth": 1.4, "interpolate": "monotone", "clip": true},
     "encoding": {
       "x": {"field": "E", "type": "quantitative", "scale": {"domain": [1.2, 3.165], "nice": false, "zero": false}, "axis": {"title": null, "labels": false, "values": [1.5, 2, 2.5, 3]}},
       "y": {"field": "v", "type": "quantitative", "scale": {"domain": [0, 15.15], "nice": false}, "axis": {"title": null, "labels": false, "values": [0, 3, 6, 9, 12]}},
       "color": {"field": "s", "type": "nominal", "sort": null, "scale": {"domain": ["mD", "mQ", "mO"], "range": ["#1f6ff2", "#ff8a1e", "#87a032"]}, "legend": {"title": null, "legendX": 89, "legendY": 6, "symbolSize": 420, "clipHeight": 11, "rowPadding": 0.5}}
     }},
    {"data": {"values": [{}]}, "mark": {"type": "text", "align": "left", "baseline": "middle"}, "encoding": {"x": {"datum": 1.26, "type": "quantitative"}, "y": {"datum": 13.8, "type": "quantitative"}, "text": {"value": "(b)"}}},
    {"data": {"values": [{}]}, "mark": {"type": "text", "align": "right", "baseline": "middle"}, "encoding": {"x": {"datum": 3.08, "type": "quantitative"}, "y": {"datum": 7.2, "type": "quantitative"}, "text": {"value": "D = 165 nm"}}}
  ]},
  {"width": 142, "height": 118, "layer": [
    {"data": {"values": [{}]}, "mark": {"type": "rect", "color": "#d6e4fa"}, "encoding": {"x": {"datum": 1.66, "type": "quantitative"}, "x2": {"datum": 1.955}}},
    {"data": {"name": "c"}, "mark": {"type": "line", "strokeWidth": 1.4, "interpolate": "monotone", "clip": true},
     "encoding": {
       "x": {"field": "E", "type": "quantitative", "scale": {"domain": [1.2, 3.165], "nice": false, "zero": false}, "axis": {"title": null, "labels": false, "values": [1.5, 2, 2.5, 3]}},
       "y": {"field": "v", "type": "quantitative", "scale": {"domain": [0, 15.15], "nice": false}, "axis": {"title": null, "labels": false, "values": [0, 3, 6, 9, 12]}},
       "color": {"field": "s", "type": "nominal", "sort": null, "scale": {"domain": ["mD", "mQ", "mO"], "range": ["#1f6ff2", "#ff8a1e", "#87a032"]}, "legend": {"title": null, "legendX": 88, "legendY": 6, "symbolSize": 420, "clipHeight": 11, "rowPadding": 0.5}}
     }},
    {"data": {"values": [{}]}, "mark": {"type": "text", "align": "left", "baseline": "middle"}, "encoding": {"x": {"datum": 1.26, "type": "quantitative"}, "y": {"datum": 13.8, "type": "quantitative"}, "text": {"value": "(c)"}}},
    {"data": {"values": [{}]}, "mark": {"type": "text", "align": "right", "baseline": "middle"}, "encoding": {"x": {"datum": 3.08, "type": "quantitative"}, "y": {"datum": 7.2, "type": "quantitative"}, "text": {"value": "D = 200 nm"}}}
  ]},
  {"width": 143, "height": 118, "layer": [
    {"data": {"values": [{}]}, "mark": {"type": "rect", "color": "#d6e4fa"}, "encoding": {"x": {"datum": 1.66, "type": "quantitative"}, "x2": {"datum": 1.955}}},
    {"data": {"name": "d"}, "mark": {"type": "line", "strokeWidth": 1.4, "interpolate": "monotone", "clip": true},
     "encoding": {
       "x": {"field": "E", "type": "quantitative", "scale": {"domain": [1.2, 3.165], "nice": false, "zero": false}, "axis": {"title": "energy (eV)", "values": [1.5, 2, 2.5, 3], "format": ".1f"}},
       "y": {"field": "v", "type": "quantitative", "scale": {"domain": [0, 15.15], "nice": false}, "axis": {"title": "scattering efficiency", "values": [0, 3, 6, 9, 12], "format": "d"}},
       "color": {"field": "s", "type": "nominal", "sort": null, "scale": {"domain": ["mD", "mQ", "mO"], "range": ["#1f6ff2", "#ff8a1e", "#87a032"]}, "legend": {"title": null, "legendX": 90, "legendY": 5, "symbolSize": 420, "clipHeight": 11, "rowPadding": 0.5}}
     }},
    {"data": {"values": [{}]}, "mark": {"type": "text", "align": "left", "baseline": "middle"}, "encoding": {"x": {"datum": 1.26, "type": "quantitative"}, "y": {"datum": 13.8, "type": "quantitative"}, "text": {"value": "(d)"}}},
    {"data": {"values": [{}]}, "mark": {"type": "text", "align": "right", "baseline": "middle"}, "encoding": {"x": {"datum": 3.08, "type": "quantitative"}, "y": {"datum": 7.2, "type": "quantitative"}, "text": {"value": "D = 250 nm"}}}
  ]},
  {"width": 142, "height": 118, "layer": [
    {"data": {"values": [{}]}, "mark": {"type": "rect", "color": "#d6e4fa"}, "encoding": {"x": {"datum": 1.66, "type": "quantitative"}, "x2": {"datum": 1.955}}},
    {"data": {"name": "e"}, "mark": {"type": "line", "strokeWidth": 1.4, "interpolate": "monotone", "clip": true},
     "encoding": {
       "x": {"field": "E", "type": "quantitative", "scale": {"domain": [1.2, 3.165], "nice": false, "zero": false}, "axis": {"title": "energy (eV)", "values": [1.5, 2, 2.5, 3], "format": ".1f"}},
       "y": {"field": "v", "type": "quantitative", "scale": {"domain": [0, 15.15], "nice": false}, "axis": {"title": null, "labels": false, "values": [0, 3, 6, 9, 12]}},
       "color": {"field": "s", "type": "nominal", "sort": null, "scale": {"domain": ["mD", "mQ", "mO"], "range": ["#1f6ff2", "#ff8a1e", "#87a032"]}, "legend": {"title": null, "legendX": 89, "legendY": 5, "symbolSize": 420, "clipHeight": 11, "rowPadding": 0.5}}
     }},
    {"data": {"values": [{}]}, "mark": {"type": "text", "align": "left", "baseline": "middle"}, "encoding": {"x": {"datum": 1.26, "type": "quantitative"}, "y": {"datum": 13.8, "type": "quantitative"}, "text": {"value": "(e)"}}},
    {"data": {"values": [{}]}, "mark": {"type": "text", "align": "right", "baseline": "middle"}, "encoding": {"x": {"datum": 3.08, "type": "quantitative"}, "y": {"datum": 7.2, "type": "quantitative"}, "text": {"value": "D = 300 nm"}}}
  ]},
  {"width": 142, "height": 118, "layer": [
    {"data": {"values": [{}]}, "mark": {"type": "rect", "color": "#d6e4fa"}, "encoding": {"x": {"datum": 1.66, "type": "quantitative"}, "x2": {"datum": 1.955}}},
    {"data": {"name": "f"}, "mark": {"type": "line", "strokeWidth": 1.4, "interpolate": "monotone", "clip": true},
     "encoding": {
       "x": {"field": "E", "type": "quantitative", "scale": {"domain": [1.2, 3.165], "nice": false, "zero": false}, "axis": {"title": "energy (eV)", "values": [1.5, 2, 2.5, 3], "format": ".1f"}},
       "y": {"field": "v", "type": "quantitative", "scale": {"domain": [0, 15.15], "nice": false}, "axis": {"title": null, "labels": false, "values": [0, 3, 6, 9, 12]}},
       "color": {"field": "s", "type": "nominal", "sort": null, "scale": {"domain": ["mD", "mQ", "mO"], "range": ["#1f6ff2", "#ff8a1e", "#87a032"]}, "legend": {"title": null, "legendX": 89, "legendY": 5, "symbolSize": 420, "clipHeight": 11, "rowPadding": 0.5}}
     }},
    {"data": {"values": [{}]}, "mark": {"type": "text", "align": "left", "baseline": "middle"}, "encoding": {"x": {"datum": 1.26, "type": "quantitative"}, "y": {"datum": 13.8, "type": "quantitative"}, "text": {"value": "(f)"}}},
    {"data": {"values": [{}]}, "mark": {"type": "text", "align": "right", "baseline": "middle"}, "encoding": {"x": {"datum": 3.08, "type": "quantitative"}, "y": {"datum": 7.2, "type": "quantitative"}, "text": {"value": "D = 360 nm"}}}
  ]}
]
}
